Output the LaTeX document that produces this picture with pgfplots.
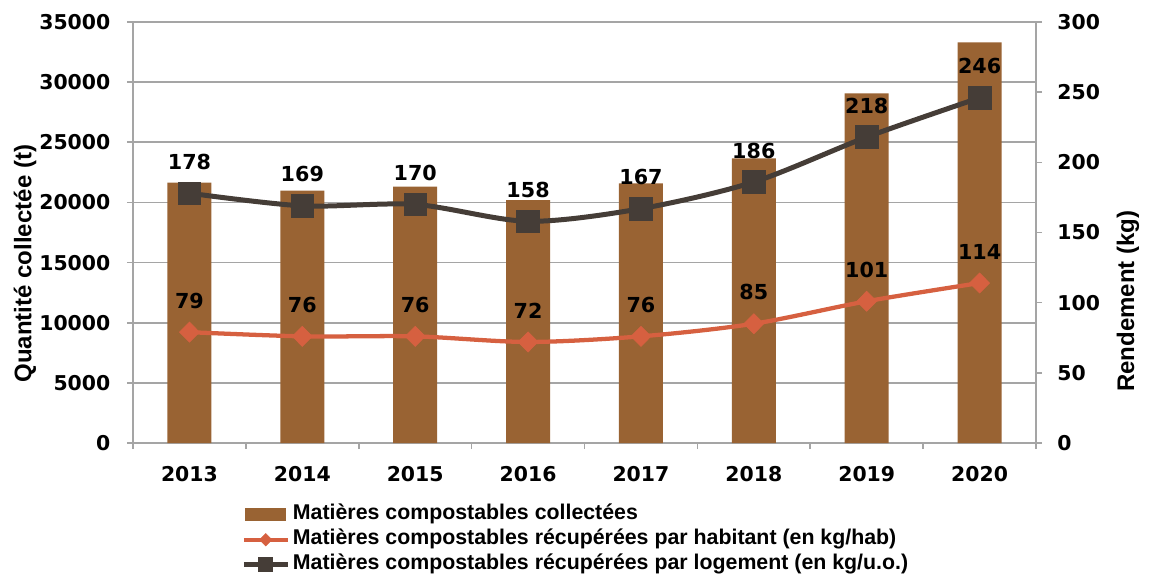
\documentclass[border=0pt]{standalone}
\usepackage{pgfplots}
\pgfplotsset{compat=1.18}
\usepackage{pgfplotstable}
\usepackage{fontspec}
\setmainfont{Liberation Sans}
\newfontfamily\numfont{DejaVu Sans}

\definecolor{barcol}{RGB}{153,99,51}
\definecolor{habcol}{RGB}{214,96,64}
\definecolor{logcol}{RGB}{69,61,55}
\definecolor{gridcol}{RGB}{165,165,165}

% x: 0 = 2013 ... 7 = 2020
\pgfplotstableread{
x bar hab log
0 21640 79 178
1 20975 76 169
2 21310 76 170
3 20200 72 158
4 21590 76 167
5 23670 85 186
6 29075 101 218
7 33310 114 246
}\data

\pgfplotsset{
  legend image code/.code={\draw[mark repeat=2,mark phase=2,#1,every mark/.append style={scale=0.62}] plot coordinates {(0pt,0pt) (16.5pt,0pt) (33pt,0pt)};},
  common/.style={
    scale only axis, width=677.25pt, height=315.75pt,
    xmin=-0.5, xmax=7.5, ymin=0,
    tick align=outside, major tick length=4.5pt,
    tick style={draw=gridcol, line width=1.2pt},
    axis line style={draw=gridcol, line width=1.2pt, -},
    ticklabel style={font=\numfont\bfseries\fontsize{15.3}{18}\selectfont},
    /pgf/number format/assume math mode=true,
    /pgf/number format/1000 sep={},
    scaled y ticks=false,
  },
}

\begin{document}
\begin{tikzpicture}
\begin{axis}[common,
  ymax=35000, ytick={0,5000,...,35000},
  axis x line*=bottom, axis y line*=left,
  xtick={-0.5,0.5,...,7.5}, xticklabels={},
  extra x ticks={0,...,7},
  extra x tick labels={2013,2014,2015,2016,2017,2018,2019,2020},
  extra x tick style={major tick length=0pt},
  xticklabel style={yshift=-14pt},
  yticklabel style={xshift=-9pt},
  ymajorgrids, major grid style={draw=gridcol, line width=1.2pt},
  ylabel={Quantité collectée (t)},
  ylabel style={font=\bfseries\fontsize{18}{20}\selectfont,
    at={(axis description cs:-0.1196,0.426)}, anchor=center},
]
  \addplot[ybar, bar width=0.39, fill=barcol, draw=none] table[x=x,y=bar]{\data};
\end{axis}
\begin{axis}[common,
  ymax=300, ytick={0,50,...,300},
  axis x line=none, axis y line*=right,
  yticklabel style={xshift=8pt},
  ylabel={Rendement (kg)},
  ylabel style={font=\bfseries\fontsize{18}{20}\selectfont,
    at={(axis description cs:1.1019,0.337)}, anchor=center},
  nodes near coords,
  every node near coord/.append style={font=\numfont\bfseries\fontsize{15.5}{18}\selectfont,
    text=black, anchor=center, yshift=23.6pt},
  legend style={at={(axis description cs:0.1196,-0.14)}, anchor=north west,
    draw=none, fill=none, inner sep=0pt, row sep=0pt,
    font=\bfseries\fontsize{16}{18.75}\selectfont,
    nodes={text height=11pt, text depth=3.75pt, inner sep=2pt}},
  legend cell align=left,
]
  \addlegendimage{legend image code/.code={\fill[barcol] (1pt,-4.5pt) rectangle (31pt,4.5pt);}}
  \addlegendentry{Matières compostables collectées}
  \addplot[habcol, line width=3.2pt, smooth, mark=diamond*, mark size=7.5pt,
    mark options={xscale=1.33, line width=0.5pt, fill=habcol}]
    table[x=x,y=hab]{\data};
  \addlegendentry{Matières compostables récupérées par habitant (en kg/hab)}
  \addplot[logcol, line width=3.75pt, smooth, mark=square*, mark size=8.5pt,
    mark options={line width=0.5pt, fill=logcol, rounded corners=2pt}]
    table[x=x,y=log]{\data};
  \addlegendentry{Matières compostables récupérées par logement (en kg/u.o.)}
\end{axis}
\pgfresetboundingbox
\useasboundingbox (-99.75pt,-99.75pt) rectangle (767.25pt,332.25pt);
\end{tikzpicture}
\end{document}
